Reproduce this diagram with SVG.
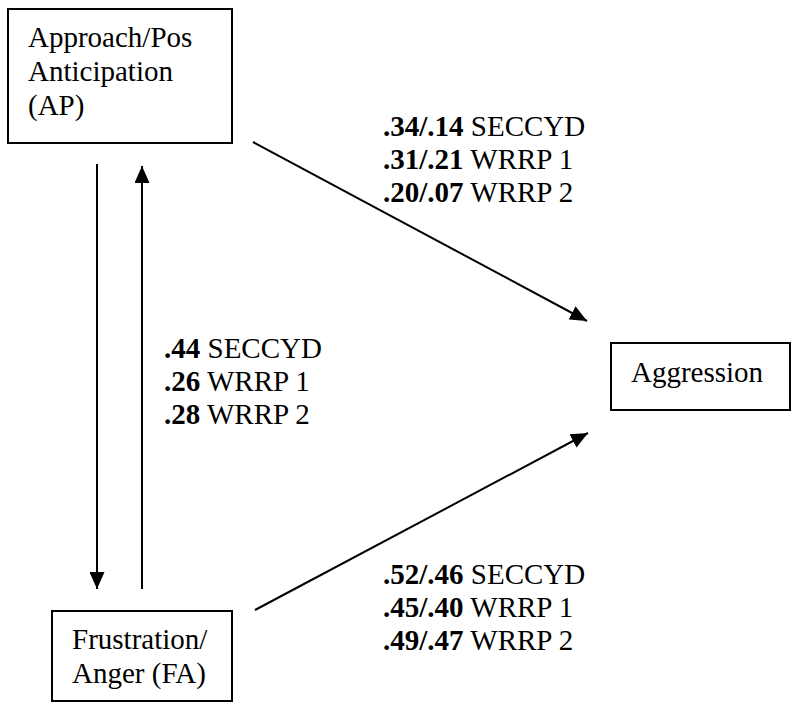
<svg xmlns="http://www.w3.org/2000/svg" width="795" height="710" viewBox="0 0 795 710">
<style>
text{font-family:"Liberation Serif","Times New Roman",serif;font-size:29px;fill:#000}
.b{font-weight:bold}
rect{fill:#fff;stroke:#000;stroke-width:2}
line{stroke:#000;stroke-width:2}
</style>
<defs>
<marker id="ah" viewBox="0 0 17 15" refX="17" refY="7.5" markerWidth="17" markerHeight="15" markerUnits="userSpaceOnUse" orient="auto">
<path d="M0,0 L17,7.5 L0,15 z" fill="#000"/>
</marker>
</defs>
<rect width="795" height="710" style="fill:#fff;stroke:none"/>
<g id="node-ap">
<rect x="8" y="9" width="224" height="134"/>
<text x="28" y="47">Approach/Pos</text>
<text x="28" y="81">Anticipation</text>
<text x="28" y="115">(AP)</text>
</g>
<g id="node-fa">
<rect x="52" y="611" width="180" height="90"/>
<text x="72" y="649">Frustration/</text>
<text x="72" y="683">Anger (FA)</text>
</g>
<g id="node-agg">
<rect x="611" y="343" width="179" height="67"/>
<text x="631" y="382">Aggression</text>
</g>
<g id="connectors">
<line x1="97" y1="164" x2="97" y2="589" marker-end="url(#ah)"/>
<line x1="142" y1="589" x2="142" y2="166" marker-end="url(#ah)"/>
<line x1="253" y1="142" x2="587" y2="321" marker-end="url(#ah)"/>
<line x1="255" y1="610" x2="588" y2="433" marker-end="url(#ah)"/>
</g>
<g id="labels">
<text x="383" y="136"><tspan class="b">.34/.14</tspan> SECCYD</text>
<text x="383" y="169"><tspan class="b">.31/.21</tspan> WRRP 1</text>
<text x="383" y="202"><tspan class="b">.20/.07</tspan> WRRP 2</text>
<text x="164" y="358"><tspan class="b">.44</tspan> SECCYD</text>
<text x="164" y="391"><tspan class="b">.26</tspan> WRRP 1</text>
<text x="164" y="424"><tspan class="b">.28</tspan> WRRP 2</text>
<text x="383" y="584"><tspan class="b">.52/.46</tspan> SECCYD</text>
<text x="383" y="617"><tspan class="b">.45/.40</tspan> WRRP 1</text>
<text x="383" y="650"><tspan class="b">.49/.47</tspan> WRRP 2</text>
</g>
</svg>
